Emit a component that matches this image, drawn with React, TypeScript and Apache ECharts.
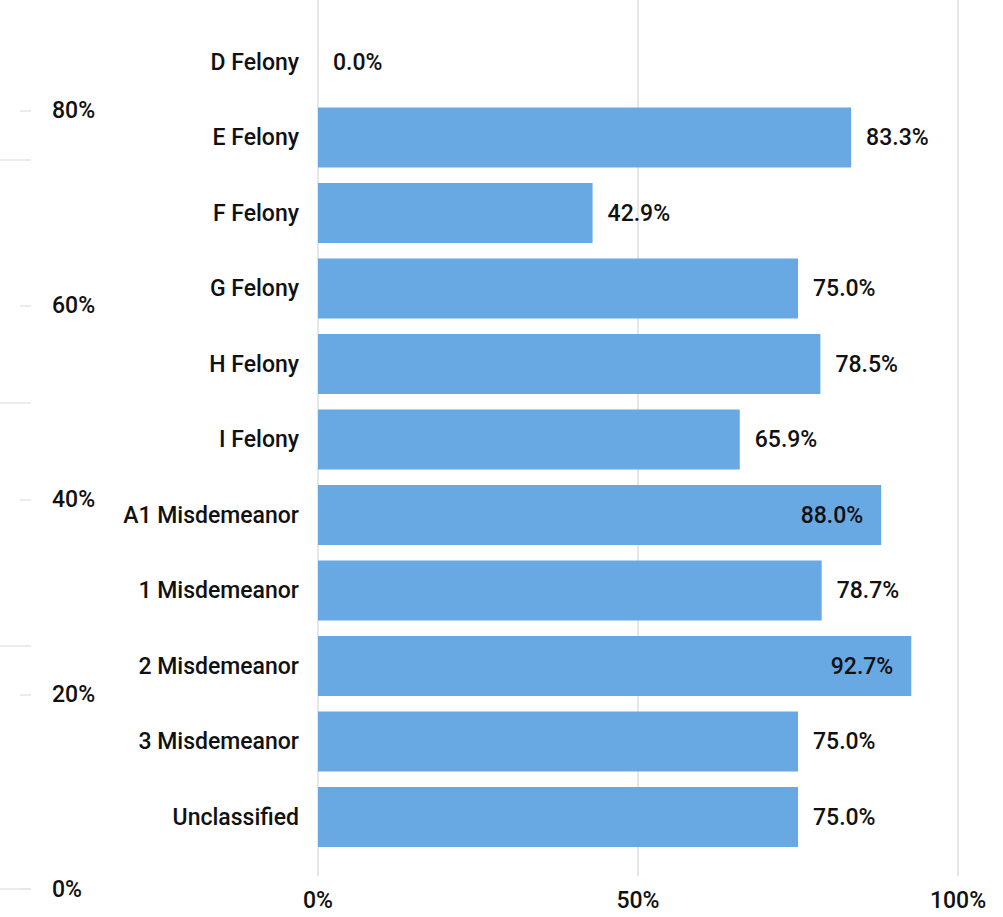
import React, { useEffect, useRef } from "react";
import * as echarts from "echarts";

const categories = [
  "D Felony",
  "E Felony",
  "F Felony",
  "G Felony",
  "H Felony",
  "I Felony",
  "A1 Misdemeanor",
  "1 Misdemeanor",
  "2 Misdemeanor",
  "3 Misdemeanor",
  "Unclassified",
];
const values = [0.0, 83.3, 42.9, 75.0, 78.5, 65.9, 88.0, 78.7, 92.7, 75.0, 75.0];
const insideLabelThreshold = 85;
const xTicks = [0, 50, 100];
const leftTicks = [0, 20, 40, 60, 80];
const leftLongTicks = [0, 25, 50, 75];
const leftAxisMax = 91.4;

const FONT = "Roboto";
const FS = 23;
const TEXT = "#111111";
const BAR = "#68a9e3";
const GRID = "#e6e6e6";

export default function App() {
  const ref = useRef<HTMLDivElement>(null);
  useEffect(() => {
    const chart = echarts.init(ref.current!, null, { renderer: "svg" });
    const labelBase = { fontSize: FS, fontWeight: 500, color: TEXT, fontFamily: FONT };
    const option: any = {
      animation: false,
      backgroundColor: "#ffffff",
      textStyle: { fontFamily: FONT },
      grid: [
        { left: 318, width: 640, top: 24.25, height: 830.5, containLabel: false },
        { left: 318, width: 640, top: 0, height: 876, containLabel: false },
        { left: 31, width: 1, top: 0, height: 889, containLabel: false },
      ],
      xAxis: [
        { type: "value", gridIndex: 0, min: 0, max: 100, show: false },
        {
          type: "value",
          gridIndex: 1,
          min: xTicks[0],
          max: xTicks[xTicks.length - 1],
          interval: 50,
          axisLine: { show: false },
          axisTick: { show: false },
          splitLine: { show: true, lineStyle: { color: GRID, width: 2 } },
          axisLabel: {
            ...labelBase,
            margin: 13,
            formatter: (v: number) => v + "%",
          },
        },
        { type: "value", gridIndex: 2, show: false },
      ],
      yAxis: [
        {
          type: "category",
          gridIndex: 0,
          data: categories,
          inverse: true,
          axisLine: { show: false },
          axisTick: { show: false },
          axisLabel: { ...labelBase, margin: 19 },
        },
        { type: "value", gridIndex: 1, show: false },
        {
          type: "value",
          gridIndex: 2,
          position: "left",
          min: 0,
          max: leftAxisMax,
          interval: 20,
          axisLine: { show: false },
          splitLine: { show: false },
          axisTick: {
            show: true,
            length: 11,
            customValues: leftTicks,
            lineStyle: { color: GRID, width: 1.5 },
          },
          axisLabel: {
            ...labelBase,
            inside: true,
            margin: 21,
            customValues: leftTicks,
            formatter: (v: number) => v + "%",
          },
        },
        {
          type: "value",
          gridIndex: 2,
          position: "left",
          min: 0,
          max: leftAxisMax,
          interval: 25,
          axisLine: { show: false },
          splitLine: { show: false },
          axisTick: {
            show: true,
            length: 31,
            customValues: leftLongTicks,
            lineStyle: { color: GRID, width: 1.5 },
          },
          axisLabel: { show: false },
        },
      ],
      series: [
        {
          type: "bar",
          xAxisIndex: 0,
          yAxisIndex: 0,
          barCategoryGap: "20.5%",
          itemStyle: { color: BAR },
          data: values.map((v) => ({
            value: v,
            label: {
              show: true,
              position: v > insideLabelThreshold ? "insideRight" : "right",
              distance: v > insideLabelThreshold ? 18 : 15,
              formatter: (p: any) => Number(p.value).toFixed(1) + "%",
              ...labelBase,
            },
          })),
        },
      ],
    };
    chart.setOption(option);
    return () => chart.dispose();
  }, []);
  return (
    <div
      ref={ref}
      style={{ position: "fixed", left: 0, top: 0, width: 1003, height: 917 }}
    />
  );
}
